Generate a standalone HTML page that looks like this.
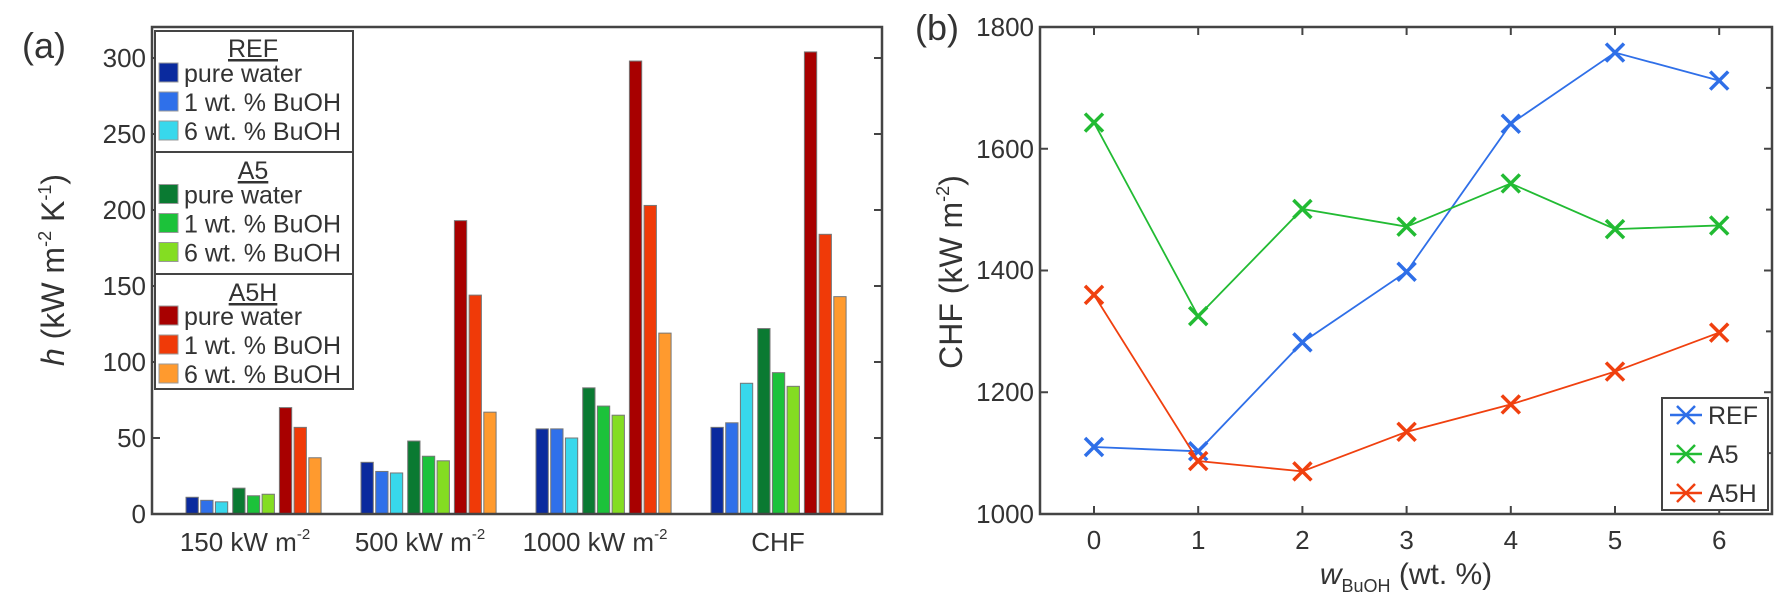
<!DOCTYPE html>
<html><head><meta charset="utf-8"><style>
html,body{margin:0;padding:0;background:#fff;}
svg{display:block;font-family:"Liberation Sans",sans-serif;}
</style></head><body>
<svg width="1784" height="597" viewBox="0 0 1784 597" xmlns="http://www.w3.org/2000/svg">
<rect width="1784" height="597" fill="#fff"/>
<!-- (a) -->
<text x="22" y="58" font-size="36" fill="#333">(a)</text>
<g id="bars" stroke="#777" stroke-width="1"></g>
<rect x="152" y="27" width="730" height="487" fill="none" stroke="#444" stroke-width="2.5"/>
<g font-size="26" fill="#333" text-anchor="end">
<text x="146" y="523">0</text><text x="146" y="447">50</text><text x="146" y="371">100</text>
<text x="146" y="295">150</text><text x="146" y="219">200</text><text x="146" y="143">250</text><text x="146" y="67">300</text>
</g>
<g stroke="#444" stroke-width="2">
<path d="M152 438h8M152 362h8M152 286h8M152 210h8M152 134h8M152 58h8M882 438h-8M882 362h-8M882 286h-8M882 210h-8M882 134h-8M882 58h-8"/>
</g>
<g font-size="26" fill="#333" text-anchor="middle">
<text x="245" y="551">150 kW m<tspan font-size="15" dy="-12">-2</tspan></text>
<text x="420" y="551">500 kW m<tspan font-size="15" dy="-12">-2</tspan></text>
<text x="595" y="551">1000 kW m<tspan font-size="15" dy="-12">-2</tspan></text>
<text x="778" y="551">CHF</text>
</g>
<text transform="translate(64,270) rotate(-90)" font-size="32" fill="#333" text-anchor="middle"><tspan font-style="italic">h</tspan> (kW m<tspan font-size="18" dy="-13">-2</tspan><tspan dy="13"> K</tspan><tspan font-size="18" dy="-13">-1</tspan><tspan dy="13">)</tspan></text>
<!-- legend a -->
<rect x="155" y="31" width="198" height="358" fill="#fff" stroke="#444" stroke-width="2"/>
<path d="M155 152h198M155 274h198" stroke="#444" stroke-width="2"/>
<g font-size="25" fill="#333">
<text x="253" y="57" text-anchor="middle" text-decoration="underline">REF</text>
<text x="253" y="179" text-anchor="middle" text-decoration="underline">A5</text>
<text x="253" y="301" text-anchor="middle" text-decoration="underline">A5H</text>
<g id="leg"></g>
</g>
<!-- (b) -->
<text x="915" y="40" font-size="36" fill="#333">(b)</text>
<rect x="1040" y="27" width="732" height="487" fill="none" stroke="#444" stroke-width="2.5"/>
<g id="tickb" stroke="#444" stroke-width="2"></g>
<g font-size="26" fill="#333" text-anchor="end">
<text x="1034" y="523">1000</text><text x="1034" y="401">1200</text><text x="1034" y="279">1400</text>
<text x="1034" y="158">1600</text><text x="1034" y="36">1800</text>
</g>
<g id="xlb" font-size="26" fill="#333" text-anchor="middle"></g>
<text transform="translate(962,272) rotate(-90)" font-size="32" fill="#333" text-anchor="middle">CHF (kW m<tspan font-size="18" dy="-13">-2</tspan><tspan dy="13">)</tspan></text>
<text x="1406" y="584" font-size="30" fill="#333" text-anchor="middle"><tspan font-style="italic">w</tspan><tspan font-size="18" dy="8">BuOH</tspan><tspan dy="-8"> (wt. %)</tspan></text>
<g id="lines"></g>
<rect x="1662" y="398" width="106" height="112" fill="#fff" stroke="#444" stroke-width="2"/>
<g id="legb" font-size="25" fill="#333"></g>
</svg>
<script>
var NS="http://www.w3.org/2000/svg";
function el(p,t,a,txt){var e=document.createElementNS(NS,t);for(var k in a)e.setAttribute(k,a[k]);if(txt)e.textContent=txt;p.appendChild(e);return e;}
var cols=["#0a2a9e","#2f70ea","#38d8ec","#0a7a32","#1cc23a","#84dd22","#a80000","#f03a08","#ff9a2e"];
var data=[[11,9,8,17,12,13,70,57,37],[34,28,27,48,38,35,193,144,67],[56,56,50,83,71,65,298,203,119],[57,60,86,122,93,84,304,184,143]];
var bars=document.getElementById("bars");
for(var g=0;g<4;g++){var gs=186+175*g;for(var i=0;i<9;i++){var x=gs+Math.floor(i/3)*46.7+(i%3)*14.7;var v=data[g][i];el(bars,"rect",{x:x,y:514-v*1.52,width:12.3,height:v*1.52,fill:cols[i]});}}
var leg=document.getElementById("leg");var lab=["pure water","1 wt. % BuOH","6 wt. % BuOH"];
for(var s=0;s<3;s++)for(var r=0;r<3;r++){var cy=73+s*121.5+r*29;el(leg,"rect",{x:159,y:cy-10,width:19,height:19,fill:cols[s*3+r],stroke:"#999","stroke-width":1});el(leg,"text",{x:184,y:cy+9},lab[r]);}
function X(i){return 1094+i*104.2;}function Y(v){return 514-(v-1000)*0.60875;}
var tk=document.getElementById("tickb"),xl=document.getElementById("xlb");
for(var i=0;i<=6;i++){el(tk,"path",{d:"M"+X(i)+" 514v-8M"+X(i)+" 27v8"});el(xl,"text",{x:X(i),y:549},""+i);}
[1200,1400,1600].forEach(function(v){el(tk,"path",{d:"M1040 "+Y(v)+"h8M1772 "+Y(v)+"h-8"});});
[1100,1300,1500,1700].forEach(function(v){el(tk,"path",{d:"M1772 "+Y(v)+"h-6"});});
var ser=[["#2f6fe8",[1110,1103,1282,1398,1641,1758,1712]],["#22bb33",[1643,1325,1501,1472,1543,1468,1474]],["#f0400f",[1360,1087,1070,1135,1180,1234,1298]]];
var ln=document.getElementById("lines");
ser.forEach(function(s){var p="";s[1].forEach(function(v,i){p+=(i?"L":"M")+X(i)+" "+Y(v);});el(ln,"path",{d:p,fill:"none",stroke:s[0],"stroke-width":1.8});
s[1].forEach(function(v,i){var x=X(i),y=Y(v);el(ln,"path",{d:"M"+(x-9)+" "+(y-9)+"L"+(x+9)+" "+(y+9)+"M"+(x-9)+" "+(y+9)+"L"+(x+9)+" "+(y-9),stroke:s[0],"stroke-width":3.5});});});
var lb=document.getElementById("legb");var nm=["REF","A5","A5H"];
ser.forEach(function(s,k){var y=415+k*39;el(lb,"path",{d:"M1670 "+y+"h32M1677 "+(y-9)+"l18 18M1677 "+(y+9)+"l18 -18",stroke:s[0],"stroke-width":2.5,fill:"none"});el(lb,"text",{x:1708,y:y+9},nm[k]);});
</script>
</body></html>
